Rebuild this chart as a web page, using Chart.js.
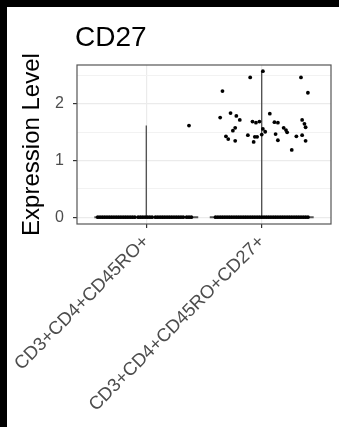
<!DOCTYPE html>
<html>
<head>
<meta charset="utf-8">
<script src="https://cdn.jsdelivr.net/npm/chart.js@4"></script>
<style>
  html, body { margin: 0; padding: 0; background: #000; }
  #wrap { position: absolute; left: 7px; top: 7px; width: 332px; height: 420px; background: #fff; }
</style>
</head>
<body>
<div id="wrap"><canvas id="myChart" width="332" height="420"></canvas></div>
<script>
const plotTitle = 'CD27';
const yTitle = 'Expression Level';
const categories = ['CD3+CD4+CD45RO+', 'CD3+CD4+CD45RO+CD27+'];
const yTicks = [0, 1, 2];
const yMinorTicks = [0.5, 1.5, 2.5];

// cells with expression > 0 and the jitter each point got
const ro45Values = [1.62];
const ro45Jitter = [0.37];
// cells at 0 (jitter only)
const ro45ZeroJitter = [-0.42, -0.40, -0.38, -0.36, -0.34, -0.32, -0.30, -0.28, -0.26, -0.24, -0.22, -0.20,
  -0.18, -0.16, -0.14, -0.12, -0.10, -0.07, -0.05, -0.03, -0.01, 0.01, 0.03, 0.05,
  0.08, 0.10, 0.12, 0.14, 0.16, 0.18, 0.20, 0.22, 0.24, 0.26, 0.28, 0.30, 0.32, 0.35, 0.37, 0.39];

const cd27Values = [2.58, 2.47, 2.47, 2.23, 2.20, 1.76, 1.84, 1.79, 1.72, 1.83, 1.69, 1.67, 1.69,
  1.68, 1.67, 1.72, 1.65, 1.59, 1.58, 1.53, 1.56, 1.51, 1.46, 1.58, 1.54, 1.50, 1.47,
  1.43, 1.38, 1.35, 1.45, 1.42, 1.42, 1.33, 1.36, 1.43, 1.45, 1.35, 1.19];
const cd27Jitter = [0.01, -0.10, 0.34, -0.34, 0.40, -0.36, -0.27, -0.22, -0.19, 0.07, -0.08, -0.05, -0.02,
  0.11, 0.14, 0.35, 0.37, 0.38, -0.23, -0.25, 0.01, 0.03, 0.00, 0.19, 0.21, 0.22, 0.12,
  -0.31, -0.29, -0.23, -0.12, -0.06, -0.04, -0.07, 0.14, 0.30, 0.35, 0.38, 0.26];
const cd27ZeroJitter = [-0.40, -0.38, -0.36, -0.34, -0.32, -0.30, -0.28, -0.26, -0.24, -0.22, -0.20, -0.18,
  -0.16, -0.14, -0.12, -0.10, -0.08, -0.06, -0.04, -0.02, 0.00, 0.02, 0.04, 0.06,
  0.08, 0.10, 0.12, 0.14, 0.16, 0.18, 0.20, 0.22, 0.24, 0.26, 0.28, 0.30, 0.32, 0.34, 0.36, 0.38, 0.40];

const violinHalfWidth = 0.45;

function jitterPoints(cat, values, jitter, zeroJitter) {
  let pts = [];
  for (let i = 0; i < zeroJitter.length; i++) pts.push({ x: cat + zeroJitter[i], y: 0 });
  for (let i = 0; i < values.length; i++) pts.push({ x: cat + jitter[i], y: values[i] });
  return pts;
}

function violinSets(cat, values) {
  const top = Math.max(...values);
  return [{
    data: [{ x: cat, y: 0 }, { x: cat, y: top }],
    showLine: true, pointRadius: 0, borderColor: '#3d3d3d', borderWidth: 1.2, order: 2
  }, {
    data: [{ x: cat - violinHalfWidth, y: 0 }, { x: cat + violinHalfWidth, y: 0 }],
    showLine: true, pointRadius: 0, borderColor: '#555555', borderWidth: 2, order: 2
  }];
}

const points = jitterPoints(1, ro45Values, ro45Jitter, ro45ZeroJitter)
  .concat(jitterPoints(2, cd27Values, cd27Jitter, cd27ZeroJitter));

// panel border + title
const panelPlugin = {
  id: 'panel',
  afterDatasetsDraw(chart) {
    const a = chart.chartArea;
    const ctx = chart.ctx;
    ctx.save();
    ctx.strokeStyle = '#555555';
    ctx.lineWidth = 1.2;
    ctx.strokeRect(a.left, a.top, a.right - a.left, a.bottom - a.top);
    ctx.fillStyle = '#000';
    ctx.font = '28px "Liberation Sans", Arial, sans-serif';
    ctx.textBaseline = 'alphabetic';
    ctx.textAlign = 'left';
    ctx.fillText(plotTitle, a.left - 2, 39);
    ctx.restore();
  }
};

const ctx = document.getElementById('myChart');
new Chart(ctx, {
  type: 'scatter',
  data: {
    datasets: [
      ...violinSets(1, ro45Values),
      ...violinSets(2, cd27Values),
      {
        data: points, backgroundColor: '#000', borderWidth: 0, pointRadius: 1.9, order: 1
      }
    ]
  },
  options: {
    responsive: false,
    devicePixelRatio: 1,
    animation: false,
    layout: { padding: { top: 58, right: 8, left: 0, bottom: 0 } },
    plugins: { legend: { display: false }, tooltip: { enabled: false } },
    scales: {
      x: {
        type: 'linear', min: 0.4, max: 2.6,
        afterBuildTicks: (axis) => { axis.ticks = [{ value: 1 }, { value: 2 }]; },
        afterFit: (axis) => {
          axis.height = 203;
          // long rotated labels must not push the panel right
          axis.paddingLeft = 0;
          axis.paddingRight = 0;
        },
        border: { display: false },
        grid: { color: '#ebebeb', lineWidth: 1.2, tickLength: 4, tickColor: '#333' },
        ticks: {
          autoSkip: false, minRotation: 45, maxRotation: 45, padding: 3,
          color: '#4d4d4d', font: { family: '"Liberation Sans", Arial, sans-serif', size: 18.5 },
          callback: (v) => categories[v - 1]
        }
      },
      y: {
        min: -0.12, max: 2.69,
        afterBuildTicks: (axis) => {
          axis.ticks = yTicks.concat(yMinorTicks).sort((a, b) => a - b).map(v => ({ value: v }));
        },
        afterFit: (axis) => { axis.width = 70; },
        border: { display: false },
        grid: {
          color: (c) => yMinorTicks.includes(c.tick.value) ? '#f2f2f2' : '#ebebeb',
          lineWidth: (c) => yMinorTicks.includes(c.tick.value) ? 1 : 1.2,
          tickLength: 4,
          tickColor: (c) => yMinorTicks.includes(c.tick.value) ? 'rgba(0,0,0,0)' : '#333'
        },
        ticks: {
          padding: 9, color: '#4d4d4d',
          font: { family: '"Liberation Sans", Arial, sans-serif', size: 16 },
          callback: (v) => yTicks.includes(v) ? String(v) : ''
        },
        title: {
          display: true, text: yTitle, color: '#000',
          font: { family: '"Liberation Sans", Arial, sans-serif', size: 24 },
          padding: { top: 11, bottom: 0 }
        }
      }
    }
  },
  plugins: [panelPlugin]
});
</script>
</body>
</html>
